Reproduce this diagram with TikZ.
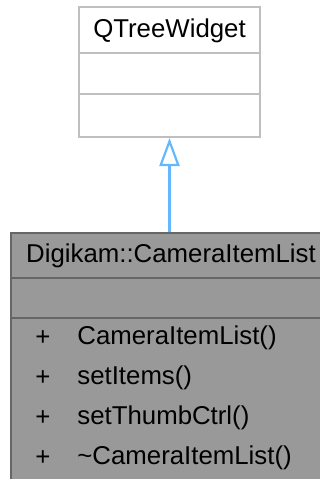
\documentclass[tikz,border=0pt]{standalone}
\usepackage{fontspec}
\setmainfont{Liberation Sans}
\usetikzlibrary{arrows.meta,positioning}
\definecolor{edgeblue}{HTML}{63B8FF}
\definecolor{baseedge}{HTML}{BFBFBF}
\definecolor{classfill}{HTML}{999999}
\definecolor{classedge}{HTML}{666666}
\tikzset{
  baseclassbox/.style={draw=baseedge,fill=white,line width=1pt,inner sep=0pt,
    minimum width=90.5pt,minimum height=65pt},
  classbox/.style={draw=classedge,fill=classfill,line width=1pt,inner sep=0pt,
    minimum width=160pt,minimum height=128.5pt},
  classtitle/.style={font=\fontsize{12.9}{14}\selectfont,inner sep=0pt},
  membertext/.style={font=\fontsize{12.9}{14}\selectfont,inner sep=0pt,anchor=west},
  inheritarrow/.style={-{Triangle[open,length=14pt,width=10pt]},draw=edgeblue,line width=1.1pt}
}

\begin{document}
\begin{tikzpicture}[x=0.5pt,y=0.5pt]
  \useasboundingbox (0,0) rectangle (320,-479);
  % base class
  \node[baseclassbox] (qtree) at (169.5,-72) {};
  \draw[baseedge,line width=1pt] (79,-53) -- (260,-53);
  \draw[baseedge,line width=1pt] (79,-94) -- (260,-94);
  \node[classtitle] (qtreename) at (169.5,-31) {QTreeWidget};
  % derived class
  \node[classbox] (itemlist) at (171,-361.5) {};
  \draw[classedge,line width=1pt] (11,-278) -- (331,-278);
  \draw[classedge,line width=1pt] (11,-318) -- (331,-318);
  \node[classtitle] (itemlistname) at (171,-256) {Digikam::CameraItemList};
  \node[membertext] (plusa) at (35,-338) {+};
  \node[membertext] (membera) at (77,-338) {CameraItemList()};
  \node[membertext] (plusb) at (35,-378) {+};
  \node[membertext] (memberb) at (77,-378) {setItems()};
  \node[membertext] (plusc) at (35,-418) {+};
  \node[membertext] (memberc) at (77,-418) {setThumbCtrl()};
  \node[membertext] (plusd) at (35,-458) {+};
  \node[membertext] (memberd) at (77,-458) {\char`\~CameraItemList()};
  \draw[inheritarrow] (itemlist.north -| qtree.south) -- (qtree.south);
\end{tikzpicture}
\end{document}
